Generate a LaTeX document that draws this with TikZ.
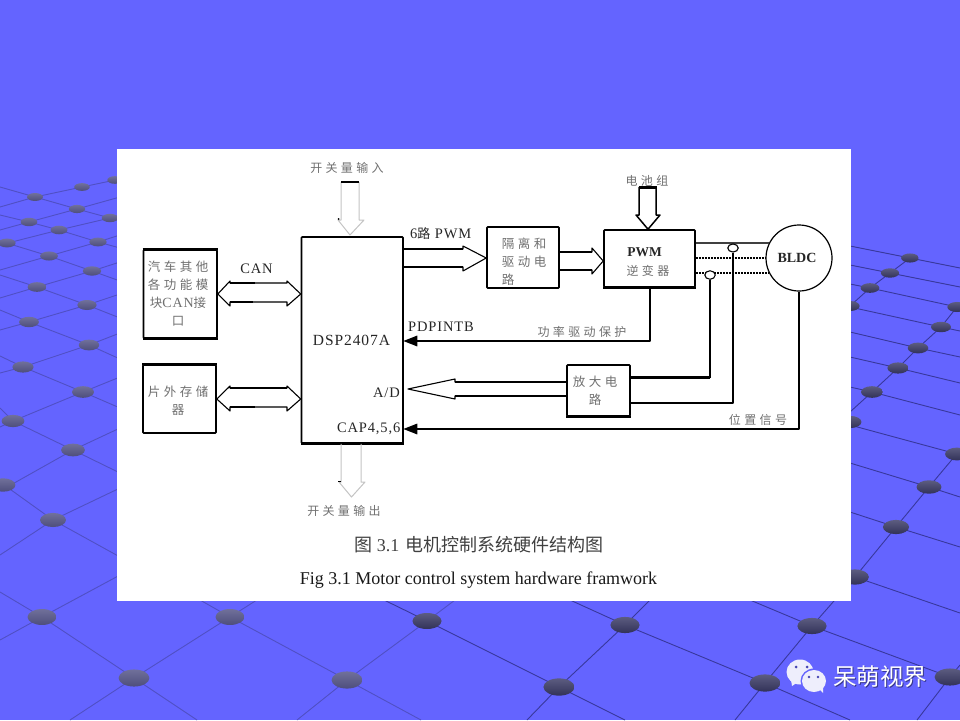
\documentclass[tikz,border=0pt]{standalone}
\usepackage{fontspec}
\setmainfont{Liberation Serif}
\newfontfamily\cjk{Noto Sans CJK SC}
\newfontfamily\cjks[LetterSpace=28]{Noto Sans CJK SC}
\newfontfamily\latinwide[LetterSpace=6]{Liberation Serif}
\usetikzlibrary{arrows.meta,calc,shapes.geometric}
\definecolor{bgblue}{HTML}{6464FF}
\definecolor{gridlight}{HTML}{5050C4}
\definecolor{griddark}{HTML}{38389C}
\definecolor{softtext}{HTML}{707070}
\definecolor{paleline}{HTML}{C4C4C4}
\definecolor{bubble}{HTML}{EEEEFC}
\definecolor{dotlighttop}{HTML}{70709A}
\definecolor{dotlightbot}{HTML}{4E4E7C}
\definecolor{dotdarktop}{HTML}{5C5C80}
\definecolor{dotdarkbot}{HTML}{323258}
\tikzset{
  blockbox/.style={draw=black,line width=1.6pt,fill=white,rounded corners=0.8pt,inner sep=0pt},
  thickline/.style={draw=black,line width=1.5pt,line join=round},
  thinline/.style={draw=black,line width=1.1pt,line join=round},
  paleflow/.style={draw=paleline,line width=1pt,line join=round},
  sig/.style={draw=black,line width=1.6pt,line join=round},
  sigarrow/.style={sig,shorten >=-0.5pt,-{Triangle[length=14pt,width=10.5pt]}},
  softlabel/.style={text=softtext,inner sep=0pt,font=\cjks\fontsize{12}{14}\selectfont},
  boxtext/.style={text=softtext,inner sep=0pt,align=center,font=\cjks\fontsize{12.5}{18}\selectfont},
  latinlabel/.style={text=black!85,inner sep=0pt,font=\latinwide\fontsize{14.5}{16}\selectfont},
}
\begin{document}
\begin{tikzpicture}[x=1pt,y=-1pt]
\useasboundingbox (0,0) rectangle (960,720);
\fill[bgblue] (0,0) rectangle (960,720);
\begin{scope}
\clip (0,0) rectangle (960,720);
% left grid, lighter
\draw[gridlight,line width=0.9pt]
 (0,207)--(35,197)--(82,187)--(120,179)
 (0,230)--(29,222)--(77,209)--(120,197)
 (0,245)--(59,230)--(110,218)--(120,215)
 (0,270)--(49,256)--(98,242)--(120,235)
 (0,298)--(37,287)--(92,271)--(120,262)
 (0,330)--(29,322)--(87,305)--(120,294)
 (0,373)--(23,367)--(89,345)--(120,333)
 (0,427)--(13,421)--(83,392)--(120,377)
 (0,491)--(73,450)--(120,428)
 (0,555)--(53,520)--(120,488)
 (0,640)--(42,617)--(120,575)
 (0,187)--(35,197)--(77,209)--(110,218)--(120,221)
 (0,215)--(29,222)--(59,230)--(98,242)--(120,248)
 (0,241)--(49,256)--(92,271)--(120,281)
 (0,275)--(37,287)--(87,305)--(120,318)
 (0,310)--(29,322)--(89,345)--(120,359)
 (0,356)--(23,367)--(83,392)--(120,408)
 (0,408)--(13,421)--(73,450)--(120,473)
 (0,482)--(53,520)--(120,557)
 (0,592)--(42,617)--(134,678)--(197,720)
 (70,720)--(134,678)--(230,617)--(260,598)
 (200,600)--(230,617)--(347,680)--(421,720)
 (297,720)--(347,680)--(427,621)--(455,600);
% right grid, darker
\draw[griddark,line width=0.9pt]
 (380,598)--(427,621)--(559,687)--(625,720)
 (527,720)--(559,687)--(625,625)--(650,600)
 (570,600)--(625,625)--(765,683)--(850,720)
 (735,720)--(765,683)--(812,626)--(855,577)--(896,527)--(929,487)--(960,450)
 (750,600)--(812,626)--(950,677)--(960,681)
 (917,720)--(950,677)--(960,665)
 (855,577)--(960,613)
 (850,512)--(896,527)--(960,547)
 (850,463)--(929,487)--(960,497)
 (850,425)--(957,454)--(960,455)
 (850,387)--(872,392)--(960,415)
 (850,357)--(898,368)--(960,383)
 (850,332)--(918,348)--(960,357)
 (850,307)--(941,327)--(960,331)
 (850,284)--(870,288)--(957,307)--(960,308)
 (850,265)--(890,273)--(960,287)
 (850,246)--(910,258)--(960,268)
 (850,412)--(872,392)--(898,368)--(918,348)--(941,327)--(957,307)--(960,303)
 (850,306)--(870,288)--(890,273)--(910,258);
% lattice dots, left and lighter
\foreach \x/\y in {35/197,82/187,115/180,77/209,110/218,29/222,59/230,7/243,98/242,49/256,92/271,37/287,87/305,29/322,89/345,23/367,83/392,13/421,73/450,3/485,53/520,42/617,230/617,134/678,347/680}{
  \pgfmathsetmacro{\rx}{8+0.0155*(\y-200)}
  \pgfmathsetmacro{\ry}{4+0.0095*(\y-200)}
  \shade[top color=dotlighttop,bottom color=dotlightbot] (\x,\y) ellipse [x radius=\rx,y radius=\ry];
}
% lattice dots, right and darker
\foreach \x/\y in {427/621,625/625,559/687,765/683,812/626,855/577,950/677,896/527,929/487,957/454,850/422,872/392,898/368,918/348,941/327,957/307,850/306,870/288,890/273,910/258}{
  \pgfmathsetmacro{\rx}{8+0.0155*(\y-200)}
  \pgfmathsetmacro{\ry}{4+0.0095*(\y-200)}
  \shade[top color=dotdarktop,bottom color=dotdarkbot] (\x,\y) ellipse [x radius=\rx,y radius=\ry];
}
\end{scope}
% white sheet
\fill[white] (117,149) rectangle (851,601);

% blocks
\node[blockbox,minimum width=73.5pt,minimum height=88pt] (canbox) at (180.25,294) {};
\node[blockbox,minimum width=73pt,minimum height=68pt] (membox) at (179.5,399) {};
\node[blockbox,minimum width=101.5pt,minimum height=206pt] (dsp) at (352.25,340) {};
\node[blockbox,minimum width=72pt,minimum height=61pt] (iso) at (523,257.5) {};
\node[blockbox,minimum width=91pt,minimum height=57pt] (inv) at (649.5,258.5) {};
\node[blockbox,minimum width=63pt,minimum height=51pt] (amp) at (598.5,390.5) {};
\node[draw=black,line width=1.2pt,fill=white,circle,minimum size=66pt,inner sep=0pt] (bldc) at (799,258) {};
\draw[black,line width=3pt] (dsp.south west)--(dsp.south east);
\draw[black,line width=2.6pt] (inv.south west)--(inv.south east);
\draw[black,line width=2.4pt] (canbox.south west)--(canbox.south east);
\draw[black,line width=2.2pt] (canbox.north west)--(canbox.north east);
\draw[black,line width=2.2pt] (membox.north west)--(membox.north east);
\draw[black,line width=2.2pt] (amp.south west)--(amp.south east);

% block texts
\node[boxtext] (cantxt) at (178,294) {汽车其他\\各功能模\\块{\latinwide\fontsize{14}{18}\selectfont CAN}接\\口};
\node[boxtext] (memtxt) at (178,400.5) {片外存储\\器};
\node[boxtext,align=left] (isotxt) at (524,262) {隔离和\\驱动电\\路};
\node[latinlabel,font=\bfseries\fontsize{13.5}{15}\selectfont] (invtxt) at (644.5,252) {PWM};
\node[softlabel] (invtxtb) at (648,271) {逆变器};
\node[boxtext] (amptxt) at (595,391) {放大电\\路};
\node[latinlabel,font=\latinwide\fontsize{15.5}{16}\selectfont] (dsptxt) at (351.5,340) {DSP2407A};
\node[latinlabel,font=\bfseries\fontsize{14}{15}\selectfont] (bldctxt) at (797,258) {BLDC};
\node[latinlabel,anchor=east] (adtxt) at (400,393) {A/D};
\node[latinlabel,anchor=east] (captxt) at (400.5,429) {CAP4,5,6};

% floating labels
\node[softlabel] (swin) at (347,168) {开关量输入};
\node[softlabel] (swout) at (344,511) {开关量输出};
\node[softlabel] (batt) at (647,181) {电池组};
\node[softlabel] (prot) at (582,332) {功率驱动保护};
\node[softlabel] (pos) at (758,420) {位置信号};
\node[latinlabel] (canl) at (256.5,269) {CAN};
\node[latinlabel,anchor=west] (pdp) at (408,327) {PDPINTB};
\node[latinlabel,anchor=west] (pwml) at (410,234) {6{\cjk\fontsize{13}{15}\selectfont 路} PWM};

% switch input / output (pale hollow arrows)
\draw[paleflow] (341,182)--(341,220)--(338,220)--(350,235)--(364,220)--(359,220)--(359,182);
\draw[black,line width=1.8pt] (341,182)--(359,182);
\fill[black] (338.5,219) circle (1pt);
\draw[paleflow] (dsp.south -| 341,443)--(341,482)--(339,482)--(351.5,497)--(365,482)--(361,482)--(dsp.south -| 361,443);
\draw[black,line width=0.8pt] (338,481.5)--(341,481.5);

% CAN double arrow
\coordinate (canL) at (canbox.east);
\coordinate (canR) at (dsp.west |- canbox.east);
\draw[thinline] (canL)--(230,281)--(230,283)--(287,283)--(287,281)--(canR)--(287,306)--(287,302)--(230,302)--(230,306)--cycle;
\draw[black,line width=1.8pt] (230,283)--(255,283) (230,302)--(253,302);
% memory double arrow
\coordinate (memL) at (membox.east);
\coordinate (memR) at (dsp.west |- membox.east);
\draw[thinline] (memL)--(230,386)--(230,388)--(287,388)--(287,386)--(memR)--(287,411)--(287,407)--(230,407)--(230,411)--cycle;
\draw[black,line width=2.2pt] (230,407)--(255,407);
\draw[black,line width=1.6pt] (230,388)--(287,388);

% 6-way PWM
\draw[thinline] (dsp.east |- 0,249)--(463,249)--(463,246)--(iso.west |- 0,258)--(463,271)--(463,267)--(dsp.east |- 0,267);
\draw[black,line width=1.6pt] (dsp.east |- 0,249)--(463,249) (dsp.east |- 0,267)--(463,267);
% isolation to inverter
\draw[thinline] (iso.east |- 0,252)--(592,252)--(592,248)--(inv.west |- 0,261)--(592,274)--(592,270)--(iso.east |- 0,270);
\draw[black,line width=2pt] (iso.east |- 0,252)--(592,252) (iso.east |- 0,270)--(592,270);
% battery
\draw[thickline] (639,187)--(639,215)--(636,215)--(inv.north -| 648,230)--(660,215)--(656,215)--(656,187);
\draw[black,line width=3pt] (638.5,187)--(656.5,187);
% A/D wide arrow
\draw[thinline] (amp.west |- 0,382)--(455,382)--(455,379)--(408,389)--(455,399)--(455,396)--(amp.west |- 0,396);
\draw[black,line width=1.7pt] (455,382)--(amp.west |- 0,382);
\draw[black,line width=2.5pt] (455,396)--(amp.west |- 0,396);
% protection and position signals
\draw[sigarrow] (inv.south -| 650,287)--(650,341)--(dsp.east |- 0,341);
\draw[sigarrow] (bldc.south)--(799,429)--(dsp.east |- 0,429);
% phases
\draw[black!75,line width=1.1pt] (inv.east |- 0,243)--(769,243);
\draw[black,line width=1.6pt,dash pattern=on 2pt off 1pt] (inv.east |- 0,258)--(bldc.west);
\draw[black,line width=1.6pt,dash pattern=on 2pt off 1pt] (inv.east |- 0,273)--(769,273);
% current sensors
\node[draw=black,line width=1.1pt,fill=white,ellipse,minimum width=10.5pt,minimum height=8pt,inner sep=0pt] (sensA) at (733,248) {};
\node[draw=black,line width=1.1pt,fill=white,ellipse,minimum width=10.5pt,minimum height=8.5pt,inner sep=0pt] (sensB) at (710,275) {};
\draw[thinline,line width=1.4pt] (sensA.south)--(733,403)--(amp.east |- 0,403);
\draw[thinline,line width=1.4pt] (sensB.south)--(710,377.5);
\draw[black,line width=2.4pt] (710,377.5)--(amp.east |- 0,377.5);

% captions
\node[text=black!75,inner sep=0pt] (capzh) at (479,545) {\cjk\fontsize{18}{20}\selectfont 图 {\rmfamily 3.1}\hspace{6pt}电机控制系统硬件结构图};
\node[text=black!90,inner sep=0pt] (capen) at (478.5,580) {\fontsize{18}{20}\selectfont Fig 3.1 Motor control system hardware framwork};

% watermark
\fill[bubble] (800,672) ellipse [x radius=13.5,y radius=12.5];
\fill[bubble] (791,680)--(792,686)--(798,682)--cycle;
\fill[bgblue] (814,681) ellipse [x radius=13.5,y radius=12.5];
\fill[bubble] (814,681) ellipse [x radius=12,y radius=11];
\fill[bubble] (819,689)--(823,693)--(823,685)--cycle;
\fill[bgblue!70!black] (796,667) circle (1.5) (807,667) circle (1.5) (809,677) circle (1.4) (818,677) circle (1.4);
\node[text=black!45!bgblue,inner sep=0pt] (wmshadow) at (881,678) {\cjk\fontsize{23.5}{26}\selectfont 呆萌视界};
\node[text=white,inner sep=0pt] (wm) at (880,677) {\cjk\fontsize{23.5}{26}\selectfont 呆萌视界};
\end{tikzpicture}
\end{document}
